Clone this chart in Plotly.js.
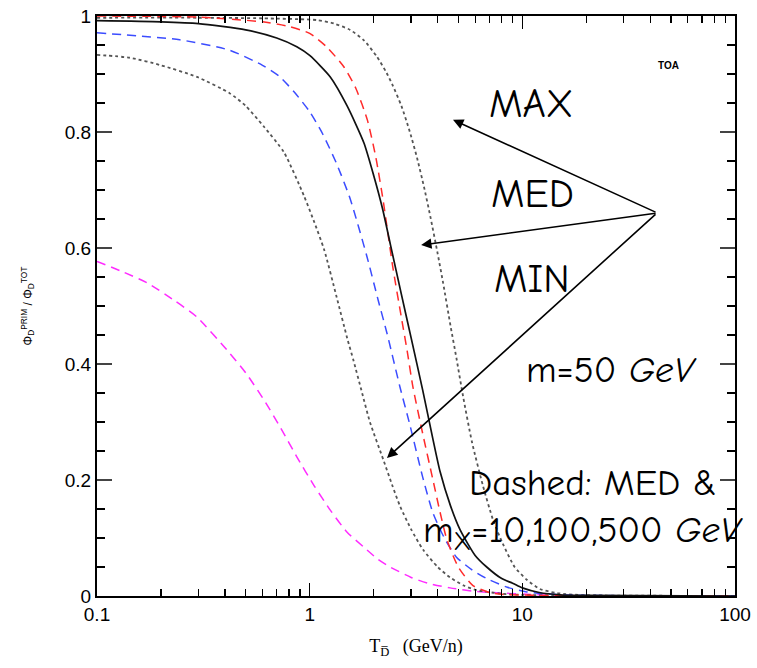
<!DOCTYPE html>
<html>
<head>
<meta charset="utf-8">
<script src="https://cdn.plot.ly/plotly-3.0.1.min.js"></script>
<style>html,body{margin:0;padding:0;background:#fff;}#chart{width:757px;height:668px;}</style>
</head>
<body>
<div id="chart"></div>
<script>
// Kinetic energy per nucleon (GeV/n) and primary fraction for each curve
const medT = [0.1, 0.2, 0.3, 0.5, 0.7, 0.87, 1.0, 1.25, 1.5, 1.8, 2.0, 2.2, 2.4, 2.7, 3.0, 3.4, 3.8, 4.1, 4.6, 5.1, 6.0, 6.8, 8, 9, 10, 12, 15, 20, 100];
const medV = [0.992, 0.990, 0.987, 0.976, 0.962, 0.947, 0.932, 0.895, 0.845, 0.781, 0.725, 0.668, 0.605, 0.52, 0.445, 0.355, 0.27, 0.215, 0.155, 0.114, 0.07, 0.05, 0.03, 0.022, 0.014, 0.006, 0.002, 0.001, 0];

const m500T = [0.1, 0.3, 0.6, 0.8, 1.0, 1.2, 1.45, 1.65, 1.87, 2.05, 2.22, 2.46, 2.7, 2.87, 3.06, 3.4, 3.8, 4.1, 4.42, 5.0, 5.86, 7, 8, 12, 100];
const m500V = [1.0, 0.998, 0.99, 0.982, 0.97, 0.947, 0.912, 0.875, 0.82, 0.755, 0.68, 0.567, 0.48, 0.424, 0.36, 0.28, 0.2, 0.145, 0.097, 0.05, 0.018, 0.006, 0.003, 0.001, 0];

const m100T = [0.1, 0.245, 0.42, 0.6, 0.725, 0.85, 1.0, 1.15, 1.34, 1.55, 1.86, 2.1, 2.31, 2.66, 2.96, 3.4, 3.8, 4.3, 4.9, 5.8, 6.8, 8.5, 10.5, 15, 100];
const m100V = [0.971, 0.959, 0.941, 0.915, 0.895, 0.868, 0.835, 0.797, 0.745, 0.685, 0.585, 0.51, 0.453, 0.36, 0.295, 0.205, 0.143, 0.1, 0.067, 0.045, 0.03, 0.015, 0.007, 0.002, 0];

const m10T = [0.1, 0.13, 0.172, 0.23, 0.295, 0.42, 0.5, 0.61, 0.73, 0.87, 1.05, 1.25, 1.5, 1.8, 2.1, 2.39, 3.0, 3.6, 4.57, 6, 8, 15, 100];
const m10V = [0.577, 0.56, 0.54, 0.51, 0.481, 0.419, 0.385, 0.338, 0.29, 0.24, 0.19, 0.148, 0.11, 0.084, 0.063, 0.05, 0.032, 0.022, 0.014, 0.008, 0.005, 0.001, 0];

const minT = [0.1, 0.143, 0.2, 0.295, 0.42, 0.5, 0.61, 0.757, 0.94, 1.05, 1.17, 1.34, 1.5, 1.61, 1.75, 1.92, 2.22, 2.45, 2.66, 3.0, 3.41, 4.0, 4.57, 5.3, 6.1, 8, 10, 100];
const minV = [0.933, 0.928, 0.915, 0.895, 0.867, 0.845, 0.809, 0.765, 0.69, 0.645, 0.597, 0.515, 0.445, 0.405, 0.355, 0.30, 0.235, 0.19, 0.155, 0.115, 0.08, 0.05, 0.032, 0.018, 0.01, 0.004, 0.002, 0];

const maxT = [0.1, 0.3, 0.6, 1.08, 1.3, 1.55, 1.8, 2.07, 2.3, 2.46, 2.7, 2.96, 3.2, 3.45, 3.69, 4.0, 4.24, 4.6, 4.9, 5.26, 5.8, 6.53, 7.3, 8.1, 9.2, 10.5, 12.1, 14.6, 20, 100];
const maxV = [0.997, 0.997, 0.996, 0.993, 0.987, 0.976, 0.958, 0.93, 0.902, 0.88, 0.845, 0.80, 0.755, 0.705, 0.655, 0.59, 0.54, 0.465, 0.41, 0.345, 0.265, 0.19, 0.13, 0.09, 0.05, 0.028, 0.012, 0.005, 0.001, 0];

const xTicks = [0.1, 1, 10, 100];
const xTickText = ['0.1', '1', '10', '100'];
const yTicks = [0, 0.2, 0.4, 0.6, 0.8, 1];
const yTickText = ['0', '0.2', '0.4', '0.6', '0.8', '1'];

const sm = 0.6;
function tr(x, y, color, dash, width) {
  return {x: x, y: y, type: 'scatter', mode: 'lines', showlegend: false, hoverinfo: 'skip',
    line: {color: color, dash: dash, width: width, shape: 'spline', smoothing: sm}};
}
const data = [
  tr(m10T, m10V, '#ff2bff', '9px,6px', 1.5),
  tr(minT, minV, '#555555', 'dot', 1.8),
  tr(maxT, maxV, '#555555', 'dot', 1.8),
  tr(m100T, m100V, '#3b4cff', '9px,6px', 1.5),
  tr(m500T, m500V, '#ff2a2a', '9px,6px', 1.5),
  tr(medT, medV, '#111111', 'solid', 1.7)
];

const comic = '"Comic Sans MS", "Comic Neue", "DejaVu Sans", sans-serif';
function txt(x, y, t, size, fam) {
  return {xref: 'paper', yref: 'paper', x: x, y: y, xanchor: 'center', yanchor: 'middle',
    text: t, showarrow: false, font: {family: fam || comic, size: size, color: '#000'}};
}
const ann = [
  txt(0.895, 0.914, '<b>TOA</b>', 10, 'Liberation Sans, Arial, sans-serif'),
  txt(0.680, 0.848, 'MAX', 40),
  txt(0.682, 0.693, 'MED', 40),
  txt(0.682, 0.547, 'MIN', 40),
  txt(0.806, 0.390, 'm=50 <i>GeV</i>', 37),
  txt(0.777, 0.195, 'Dashed: MED &amp;', 37),
  txt(0.762, 0.110, 'm<sub>X</sub>=10,100,500 <i>GeV</i>', 37),
  // arrows from a common tail to each curve
  {xref: 'paper', yref: 'paper', x: 0.558, y: 0.821, ax: 204, ay: 93, text: '', showarrow: true,
   arrowhead: 2, arrowsize: 1.3, arrowwidth: 1.6, arrowcolor: '#000'},
  {xref: 'paper', yref: 'paper', x: 0.508, y: 0.605, ax: 236, ay: -32, text: '', showarrow: true,
   arrowhead: 2, arrowsize: 1.3, arrowwidth: 1.6, arrowcolor: '#000'},
  {xref: 'paper', yref: 'paper', x: 0.4545, y: 0.238, ax: 270, ay: -245, text: '', showarrow: true,
   arrowhead: 2, arrowsize: 1.3, arrowwidth: 1.6, arrowcolor: '#000'}
];

const layout = {
  width: 757, height: 668,
  margin: {l: 97, r: 22, t: 16, b: 72},
  paper_bgcolor: '#fff', plot_bgcolor: '#fff',
  font: {family: 'Liberation Sans, Arial, sans-serif', color: '#000'},
  xaxis: {
    type: 'log', range: [-1, 2], tickmode: 'array', tickvals: xTicks, ticktext: xTickText,
    ticks: 'inside', ticklen: 13, tickwidth: 1.5, tickcolor: '#000',
    minor: {ticks: 'inside', ticklen: 7, tickwidth: 1.3, tickcolor: '#000', dtick: 'D1', showgrid: false},
    showline: true, linewidth: 2, linecolor: '#000', mirror: 'allticks',
    showgrid: false, zeroline: false,
    tickfont: {size: 19, family: 'Liberation Sans, Arial, sans-serif'},
    title: {text: 'T<sub>D̅</sub>   (GeV/n)', font: {family: 'Liberation Serif, Times New Roman, serif', size: 18}, standoff: 16}
  },
  yaxis: {
    range: [0, 1], tickmode: 'array', tickvals: yTicks, ticktext: yTickText,
    ticks: 'inside', ticklen: 15, tickwidth: 2, tickcolor: '#444',
    minor: {ticks: 'inside', ticklen: 8, tickwidth: 1.5, tickcolor: '#000', dtick: 0.05, showgrid: false},
    showline: true, linewidth: 2, linecolor: '#000', mirror: 'allticks',
    showgrid: false, zeroline: false,
    tickfont: {size: 19, family: 'Liberation Sans, Arial, sans-serif'},
    title: {text: 'Φ<sub>D</sub><sup>PRIM</sup> / Φ<sub>D</sub><sup>TOT</sup>', font: {size: 12}, standoff: 30}
  },
  annotations: ann,
  showlegend: false
};

Plotly.newPlot('chart', data, layout, {displayModeBar: false, staticPlot: true});
</script>
</body>
</html>
